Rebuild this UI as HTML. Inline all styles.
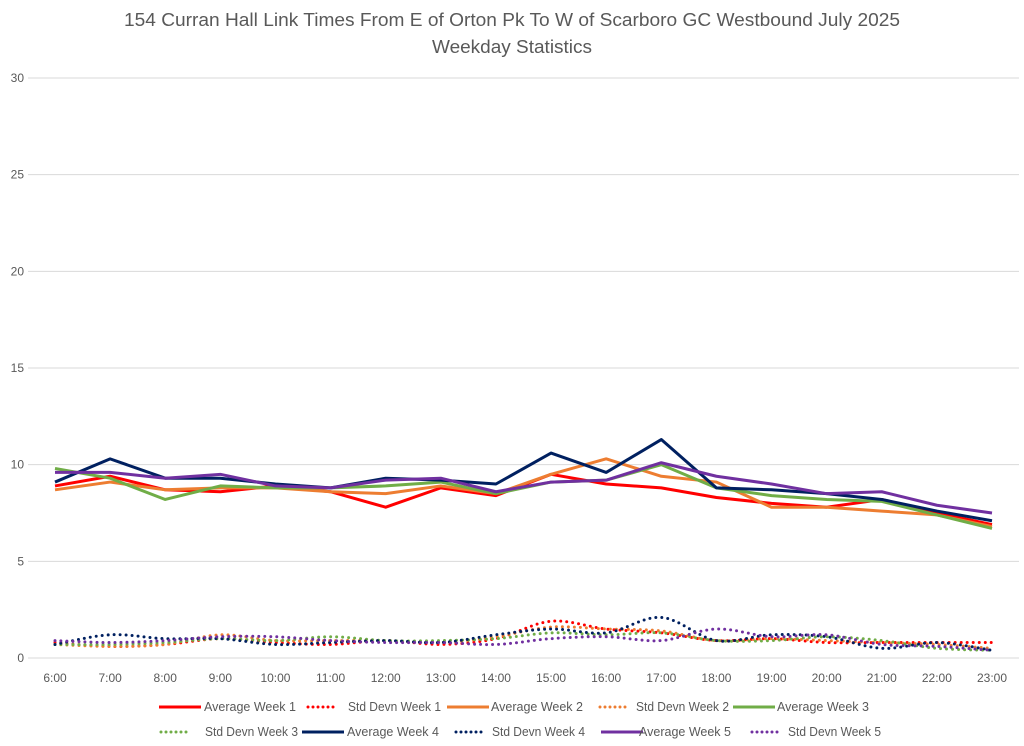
<!DOCTYPE html>
<html><head><meta charset="utf-8"><style>
body{margin:0;background:#fff;}
svg{display:block;font-family:"Liberation Sans",sans-serif;}
</style></head><body>
<svg id="chart" width="1024" height="746">
<g fill="#595959" font-size="18" text-anchor="middle">
<text x="512" y="26" textLength="776" lengthAdjust="spacingAndGlyphs">154 Curran Hall Link Times From E of Orton Pk To W of Scarboro GC Westbound July 2025</text>
<text x="512" y="53" textLength="160" lengthAdjust="spacingAndGlyphs">Weekday Statistics</text>
</g>
<g id="grid"></g>
<g id="yt"></g>
<g id="xt"></g>
<g id="series"></g>
<g id="legend"></g>
</svg>
<script>
const categories=["6:00","7:00","8:00","9:00","10:00","11:00","12:00","13:00","14:00","15:00","16:00","17:00","18:00","19:00","20:00","21:00","22:00","23:00"];
const yTicks=[0,5,10,15,20,25,30];
const avgW1=[8.9,9.4,8.7,8.6,8.9,8.6,7.8,8.8,8.4,9.5,9.0,8.8,8.3,8.0,7.8,8.2,7.5,6.9];
const avgW2=[8.7,9.1,8.7,8.8,8.8,8.6,8.5,8.9,8.5,9.5,10.3,9.4,9.1,7.8,7.8,7.6,7.4,6.8];
const avgW3=[9.8,9.3,8.2,8.9,8.8,8.8,8.9,9.1,8.5,9.1,9.2,10.0,8.8,8.4,8.2,8.1,7.4,6.7];
const avgW4=[9.1,10.3,9.3,9.3,9.0,8.8,9.3,9.2,9.0,10.6,9.6,11.3,8.8,8.7,8.5,8.2,7.6,7.1];
const avgW5=[9.6,9.6,9.3,9.5,8.9,8.8,9.2,9.3,8.6,9.1,9.2,10.1,9.4,9.0,8.5,8.6,7.9,7.5];
const sdW1=[0.8,0.6,0.7,1.0,0.8,0.7,0.9,0.7,1.0,1.9,1.5,1.3,0.9,1.0,0.8,0.8,0.8,0.8];
const sdW2=[0.7,0.6,0.7,1.2,0.9,0.9,0.9,0.8,1.1,1.6,1.5,1.4,0.9,1.0,0.9,0.8,0.7,0.5];
const sdW3=[0.7,0.7,0.8,1.0,0.9,1.1,0.9,0.9,1.0,1.3,1.2,1.3,0.9,0.9,1.1,0.9,0.5,0.4];
const sdW4=[0.7,1.2,1.0,1.0,0.7,0.8,0.9,0.8,1.2,1.5,1.3,2.1,0.9,1.2,1.1,0.5,0.8,0.4];
const sdW5=[0.9,0.8,0.9,1.1,1.1,0.9,0.8,0.8,0.7,1.0,1.1,0.9,1.5,1.1,1.2,0.7,0.6,0.4];
const seriesNames=["Average Week 1","Std Devn Week 1","Average Week 2","Std Devn Week 2","Average Week 3","Std Devn Week 3","Average Week 4","Std Devn Week 4","Average Week 5","Std Devn Week 5"];

const NS="http://www.w3.org/2000/svg";
const x=i=>55+i*(937/17);
const y=v=>658-v*(580/30);
function mk(t,a,p){const e=document.createElementNS(NS,t);for(const k in a)e.setAttribute(k,a[k]);p.appendChild(e);return e;}
const grid=document.getElementById('grid'),yt=document.getElementById('yt'),xt=document.getElementById('xt'),S=document.getElementById('series'),L=document.getElementById('legend');
yTicks.forEach(t=>{
 const l=mk('line',{x1:28,x2:1019,y1:y(t),y2:y(t),stroke:'#d9d9d9','stroke-width':1},grid);
 
 
 const tx=mk('text',{x:24,y:y(t)+4,'text-anchor':'end','font-size':12,fill:'#595959'},yt);
 tx.textContent=t;
 
 
});
categories.forEach((c,i)=>{
 const tx=mk('text',{x:x(i),y:682,'text-anchor':'middle','font-size':12,fill:'#595959'},xt);
 tx.textContent=c;
 
 
});
function smooth(pts){let d=`M${pts[0][0]},${pts[0][1]}`;for(let i=0;i<pts.length-1;i++){const p0=pts[i-1]||pts[i],p1=pts[i],p2=pts[i+1],p3=pts[i+2]||p2;const t=6;d+=` C${p1[0]+(p2[0]-p0[0])/t},${p1[1]+(p2[1]-p0[1])/t} ${p2[0]-(p3[0]-p1[0])/t},${p2[1]-(p3[1]-p1[1])/t} ${p2[0]},${p2[1]}`;}return d;}
const sd=[[sdW1,'#ff0000'],[sdW2,'#ed7d31'],[sdW3,'#70ad47'],[sdW4,'#002060'],[sdW5,'#7030a0']];
const av=[[avgW1,'#ff0000'],[avgW2,'#ed7d31'],[avgW3,'#70ad47'],[avgW4,'#002060'],[avgW5,'#7030a0']];
sd.forEach(([d,c],k)=>{
 const p=mk('path',{d:smooth(d.map((v,i)=>[x(i),y(v)])),fill:'none',stroke:c,'stroke-width':3,'stroke-dasharray':'0 6','stroke-linecap':'round'},S);
 
 
});
av.forEach(([d,c],k)=>{
 const p=mk('polyline',{points:d.map((v,i)=>x(i)+','+y(v)).join(' '),fill:'none',stroke:c,'stroke-width':3,'stroke-linejoin':'round'},S);
 
 
});
const cols=['#ff0000','#ff0000','#ed7d31','#ed7d31','#70ad47','#70ad47','#002060','#002060','#7030a0','#7030a0'];
const lx=[[159,204],[306,348],[447,491],[598,636],[733,777],[159,205],[302,347],[454,492],[601,639],[750,788]];
seriesNames.forEach((n,i)=>{
 const row=i<5?0:1, yy=row?736:711;
 const g=mk('g',{},L);
 
 
 const dotted=n.startsWith('Std');
 const [x0,tx]=lx[i];
 mk('line',{x1:dotted?x0+2:x0,x2:dotted?x0+32:x0+42,y1:yy-4,y2:yy-4,stroke:cols[i],'stroke-width':3,'stroke-dasharray':dotted?'0 5':'none','stroke-linecap':dotted?'round':'butt'},g);
 const t=mk('text',{x:tx,y:yy,'font-size':12.5,fill:'#595959',textLength:dotted?93:92,lengthAdjust:'spacingAndGlyphs'},g);
 t.textContent=n;
});
</script>
</body></html>
